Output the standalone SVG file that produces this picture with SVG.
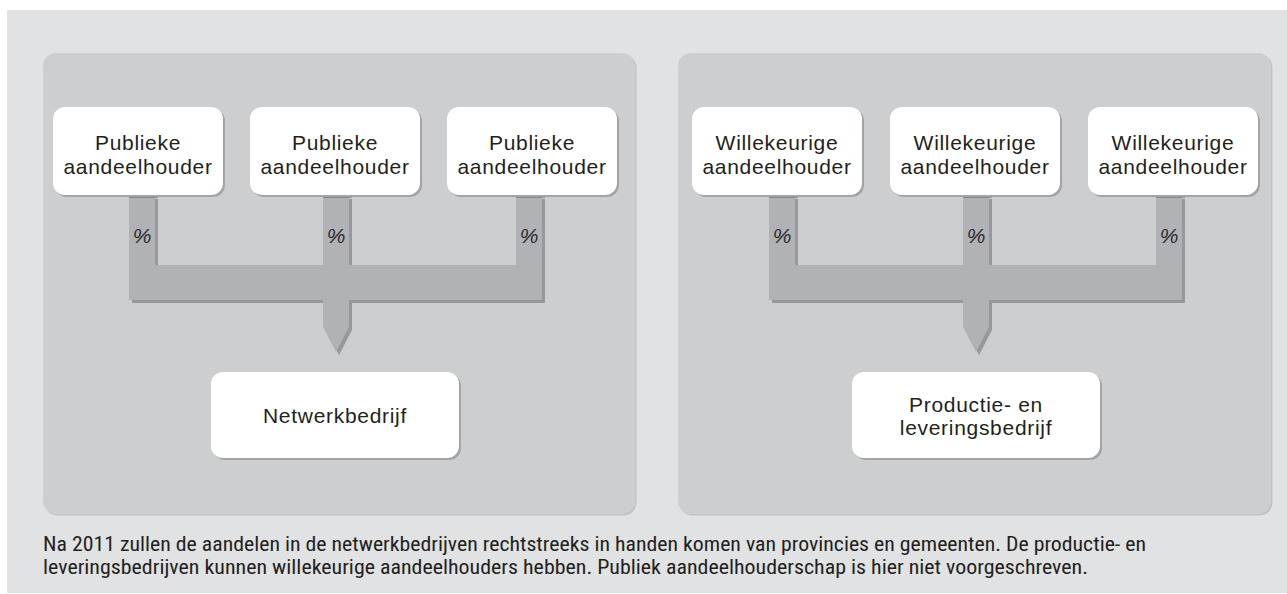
<svg xmlns="http://www.w3.org/2000/svg" width="1287" height="594" viewBox="0 0 1287 594">
<defs>
<style>
.bg{fill:#e1e2e4}
.panel{fill:#cdced0}
.pshadow{fill:#c2c3c5}
.node{fill:#ffffff}
.nshadow{fill:#a3a4a7}
.bar{fill:#b1b2b5}
.bshadow{fill:#97989b}
.strip{fill:#5a5b5d}
.t{font-family:"Liberation Sans",Arial,sans-serif;font-size:21px;fill:#231f20;text-anchor:middle;letter-spacing:0.7px}
.pct{font-family:"Liberation Sans",Arial,sans-serif;font-size:21px;font-style:italic;fill:#2a2a2a;text-anchor:middle}
.cap{font-family:"Liberation Sans Narrow","Roboto Condensed","Liberation Sans",Arial,sans-serif;font-size:20px;fill:#231f20}
</style>
</defs>
<rect class="bg" x="7" y="10" width="1280" height="583"/>
<g id="panel-left">
<rect class="pshadow" x="44.5" y="54.5" width="592" height="461" rx="13"/>
<rect class="panel" x="43" y="53" width="592" height="461" rx="13"/>
</g>
<g id="panel-right">
<rect class="pshadow" x="679.5" y="54.5" width="593" height="461" rx="13"/>
<rect class="panel" x="678" y="53" width="593" height="461" rx="13"/>
</g>
<g id="connectors">
<path class="bshadow" transform="translate(3,3)" d="M129,196H155V265H323V196H349V265H516V196H542V300H349V327L336,352L323,327V300H129Z"/>
<path class="bar" d="M129,196H155V265H323V196H349V265H516V196H542V300H349V327L336,352L323,327V300H129Z"/>
<path class="bshadow" transform="translate(3,3)" d="M769,196H795V265H963V196H989V265H1156V196H1182V300H989V327L976,352L963,327V300H769Z"/>
<path class="bar" d="M769,196H795V265H963V196H989V265H1156V196H1182V300H989V327L976,352L963,327V300H769Z"/>
<rect class="strip" x="129" y="195" width="29" height="2.5"/>
<rect class="strip" x="323" y="195" width="29" height="2.5"/>
<rect class="strip" x="516" y="195" width="29" height="2.5"/>
<rect class="strip" x="769" y="195" width="29" height="2.5"/>
<rect class="strip" x="963" y="195" width="29" height="2.5"/>
<rect class="strip" x="1156" y="195" width="29" height="2.5"/>
<text class="pct" x="142" y="243">%</text>
<text class="pct" x="336" y="243">%</text>
<text class="pct" x="529" y="243">%</text>
<text class="pct" x="782" y="243">%</text>
<text class="pct" x="976" y="243">%</text>
<text class="pct" x="1169" y="243">%</text>
</g>
<g id="node-pub1">
<rect class="nshadow" x="55" y="109" width="170" height="88" rx="12"/>
<rect class="node" x="53" y="107" width="170" height="88" rx="12"/>
<text class="t" x="138" y="150">Publieke</text>
<text class="t" x="138" y="174">aandeelhouder</text>
</g>
<g id="node-pub2">
<rect class="nshadow" x="252" y="109" width="170" height="88" rx="12"/>
<rect class="node" x="250" y="107" width="170" height="88" rx="12"/>
<text class="t" x="335" y="150">Publieke</text>
<text class="t" x="335" y="174">aandeelhouder</text>
</g>
<g id="node-pub3">
<rect class="nshadow" x="449" y="109" width="170" height="88" rx="12"/>
<rect class="node" x="447" y="107" width="170" height="88" rx="12"/>
<text class="t" x="532" y="150">Publieke</text>
<text class="t" x="532" y="174">aandeelhouder</text>
</g>
<g id="node-will1">
<rect class="nshadow" x="694" y="109" width="170" height="88" rx="12"/>
<rect class="node" x="692" y="107" width="170" height="88" rx="12"/>
<text class="t" x="777" y="150">Willekeurige</text>
<text class="t" x="777" y="174">aandeelhouder</text>
</g>
<g id="node-will2">
<rect class="nshadow" x="892" y="109" width="170" height="88" rx="12"/>
<rect class="node" x="890" y="107" width="170" height="88" rx="12"/>
<text class="t" x="975" y="150">Willekeurige</text>
<text class="t" x="975" y="174">aandeelhouder</text>
</g>
<g id="node-will3">
<rect class="nshadow" x="1090" y="109" width="170" height="88" rx="12"/>
<rect class="node" x="1088" y="107" width="170" height="88" rx="12"/>
<text class="t" x="1173" y="150">Willekeurige</text>
<text class="t" x="1173" y="174">aandeelhouder</text>
</g>
<g id="node-netwerk">
<rect class="nshadow" x="213" y="374" width="248" height="86" rx="12"/>
<rect class="node" x="211" y="372" width="248" height="86" rx="12"/>
<text class="t" x="335" y="423">Netwerkbedrijf</text>
</g>
<g id="node-productie">
<rect class="nshadow" x="854" y="374" width="248" height="86" rx="12"/>
<rect class="node" x="852" y="372" width="248" height="86" rx="12"/>
<text class="t" x="976" y="412">Productie- en</text>
<text class="t" x="976" y="435">leveringsbedrijf</text>
</g>
<g id="caption">
<text class="cap" x="43" y="551" textLength="1103" lengthAdjust="spacingAndGlyphs">Na 2011 zullen de aandelen in de netwerkbedrijven rechtstreeks in handen komen van provincies en gemeenten. De productie- en</text>
<text class="cap" x="43" y="574" textLength="1045" lengthAdjust="spacingAndGlyphs">leveringsbedrijven kunnen willekeurige aandeelhouders hebben. Publiek aandeelhouderschap is hier niet voorgeschreven.</text>
</g>
</svg>
